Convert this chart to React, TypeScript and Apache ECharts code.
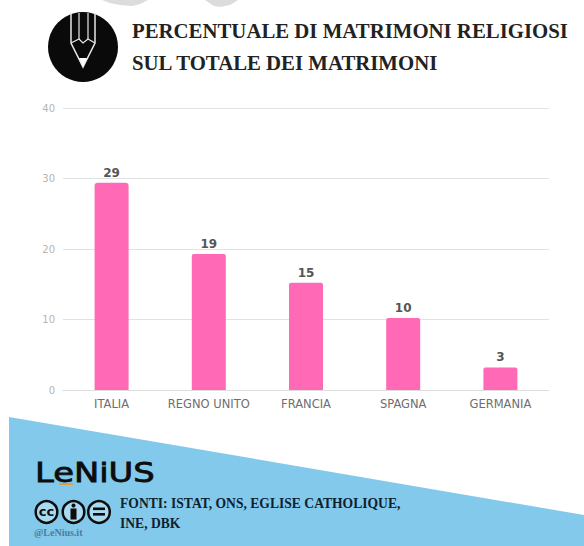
import React, { useEffect, useRef } from "react";
import * as echarts from "echarts";

const categories = ["ITALIA", "REGNO UNITO", "FRANCIA", "SPAGNA", "GERMANIA"];
const barHeights = [29.4, 19.3, 15.2, 10.2, 3.2];
const barLabels = ["29", "19", "15", "10", "3"];
const yTicks = { min: 0, max: 40, interval: 10 };
const titleLines = ["PERCENTUALE DI MATRIMONI RELIGIOSI", "SUL TOTALE DEI MATRIMONI"];
const sourceLines = ["FONTI: ISTAT, ONS, EGLISE CATHOLIQUE,", "INE, DBK"];

const serif = "'Liberation Serif', 'DejaVu Serif', serif";
const sans = "'DejaVu Sans', sans-serif";
const dark = "#10212e";
const pink = "#ff69b6";
const ink = "#0d0d0d";
const pencil = "#e8e8e8";
const badge = "#a8daf2";

export default function App() {
  const ref = useRef<HTMLDivElement>(null);
  useEffect(() => {
    const chart = echarts.init(ref.current!, null, { renderer: "svg" });
    chart.setOption({
      animation: false,
      backgroundColor: "#ffffff",
      grid: { left: 63, right: 35, top: 108, bottom: 156 },
      xAxis: {
        type: "category",
        data: categories,
        axisLine: { lineStyle: { color: "#dddddd", width: 1 } },
        axisTick: { show: false },
        axisLabel: { color: "#6e6e6e", fontFamily: sans, fontSize: 11.5, margin: 8, interval: 0 },
      },
      yAxis: {
        type: "value",
        min: yTicks.min,
        max: yTicks.max,
        interval: yTicks.interval,
        axisLine: { show: false },
        axisTick: { show: false },
        axisLabel: { color: "#b5b5b5", fontFamily: sans, fontSize: 10, margin: 8 },
        splitLine: { lineStyle: { color: "#e2e2e2", width: 1 } },
      },
      series: [
        {
          type: "bar",
          data: barHeights.map((value, i) =>
            i === 0 ? { value, itemStyle: { borderColor: pink, borderWidth: 2.6 } } : value
          ),
          barWidth: 34,
          itemStyle: { color: pink, borderRadius: [2, 2, 0, 0] },
          label: {
            show: true,
            position: "top",
            distance: 4,
            color: "#555555",
            fontFamily: sans,
            fontSize: 12,
            fontWeight: 600,
            formatter: (p: any) => barLabels[p.dataIndex],
          },
        },
      ],
      graphic: [
        { type: "polygon", z: -1, shape: { points: [[102, 0], [110, 3], [120, 5], [132, 6], [140, 4], [148, 0]] }, style: { fill: "#dcdcdc" } },
        { type: "polygon", z: -1, shape: { points: [[205, 0], [214, 6], [220, 7], [230, 5], [238, 0]] }, style: { fill: "#dcdcdc" } },
        { type: "polygon", z: -1, shape: { points: [[9, 417], [584, 515], [584, 546], [9, 546]] }, style: { fill: "#82c9ec" } },
        { type: "circle", shape: { cx: 83, cy: 47, r: 35 }, style: { fill: "#0a0a0a" } },
        { type: "polyline", shape: { points: [[71, 13], [71, 43], [83, 67], [95, 43], [95, 13]] }, style: { stroke: pencil, fill: "none", lineWidth: 1.5 } },
        { type: "polyline", shape: { points: [[79, 13], [79, 39]] }, style: { stroke: pencil, lineWidth: 1.2 } },
        { type: "polyline", shape: { points: [[88, 13], [88, 39]] }, style: { stroke: pencil, lineWidth: 1.2 } },
        { type: "polyline", shape: { points: [[71, 43], [79, 39], [83, 43], [88, 39], [95, 43]] }, style: { stroke: pencil, fill: "none", lineWidth: 1.2 } },
        { type: "polygon", shape: { points: [[79, 58], [87, 58], [83, 67]] }, style: { fill: "#ffffff" } },
        { type: "text", x: 132, y: 30, style: { text: titleLines[0], font: `bold 20.8px ${serif}`, fill: "#222222", textVerticalAlign: "middle" } },
        { type: "text", x: 132, y: 62, style: { text: titleLines[1], font: `bold 20.8px ${serif}`, fill: "#222222", textVerticalAlign: "middle" } },
        { type: "text", x: 35, y: 473, scaleX: 1.25, style: { text: "LeNiUS", font: `27px ${sans}`, fill: ink, stroke: ink, lineWidth: 0.8, textVerticalAlign: "middle" } },
        { type: "rect", shape: { x: 59, y: 483, width: 14, height: 2 }, style: { fill: "#e0a040" } },
        { type: "circle", shape: { cx: 46.5, cy: 512, r: 10.8 }, style: { fill: badge, stroke: ink, lineWidth: 2.5 } },
        { type: "circle", shape: { cx: 73.5, cy: 512, r: 10.8 }, style: { fill: badge, stroke: ink, lineWidth: 2.5 } },
        { type: "circle", shape: { cx: 99, cy: 512, r: 10.8 }, style: { fill: badge, stroke: ink, lineWidth: 2.5 } },
        { type: "text", x: 46.5, y: 511, style: { text: "cc", font: `bold 13px ${sans}`, fill: ink, textAlign: "center", textVerticalAlign: "middle" } },
        { type: "circle", shape: { cx: 73.5, cy: 505.5, r: 2 }, style: { fill: ink } },
        { type: "rect", shape: { x: 70.5, y: 508.5, width: 6, height: 11 }, style: { fill: ink } },
        { type: "rect", shape: { x: 93, y: 507.5, width: 12, height: 2.6 }, style: { fill: ink } },
        { type: "rect", shape: { x: 93, y: 513, width: 12, height: 2.6 }, style: { fill: ink } },
        { type: "text", x: 34, y: 532, style: { text: "@LeNius.it", font: `bold 10px ${serif}`, fill: "#4a7d9a", textVerticalAlign: "middle" } },
        { type: "text", x: 120, y: 503, style: { text: sourceLines[0], font: `bold 13.6px ${serif}`, fill: dark, textVerticalAlign: "middle" } },
        { type: "text", x: 120, y: 523, style: { text: sourceLines[1], font: `bold 13.6px ${serif}`, fill: dark, textVerticalAlign: "middle" } },
      ],
    });
    return () => chart.dispose();
  }, []);
  return <div ref={ref} style={{ position: "fixed", left: 0, top: 0, width: 584, height: 546 }} />;
}
